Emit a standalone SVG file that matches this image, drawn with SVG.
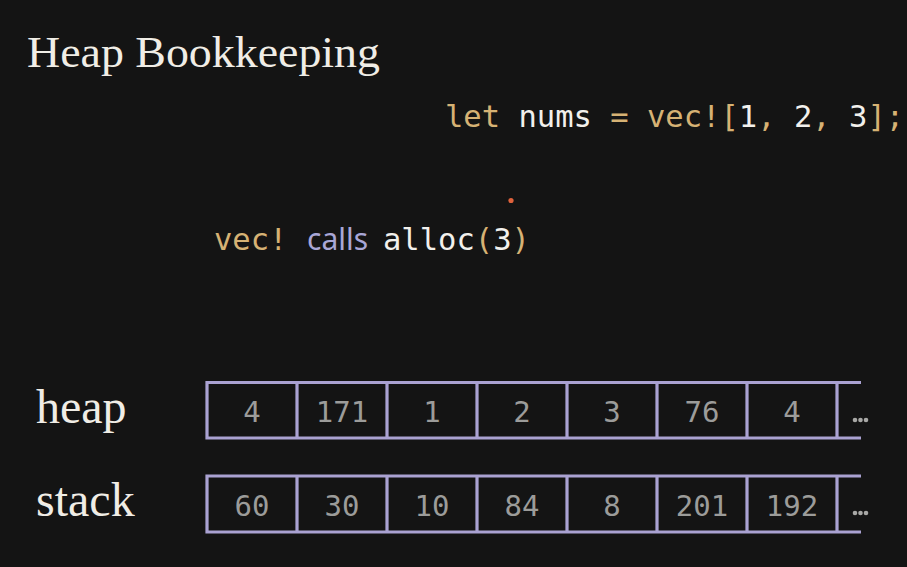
<svg xmlns="http://www.w3.org/2000/svg" width="907" height="567" viewBox="0 0 907 567">
<style>
.bg{fill:#141414}
.title{font-family:"Liberation Serif",serif;fill:#f0ede6}
.lab{font-family:"Liberation Serif",serif;font-size:48px;fill:#f0ede6}
.mono{font-family:"DejaVu Sans Mono",monospace;font-size:30.5px}
.gold{fill:#d6b274}
.white{fill:#f2f0ec}
.calls{font-family:"Noto Sans",sans-serif;font-size:30px;fill:#a9a6d6}
.cell{font-family:"DejaVu Sans Mono",monospace;font-size:29px;fill:#9c9c9a;text-anchor:middle}
.grid{fill:none;stroke:#aaa2d2;stroke-width:3.2}
.dots{fill:#a8a8a6}
</style>
<rect class="bg" x="0" y="0" width="907" height="567"/>
<text class="title" x="27" y="67" font-size="44" textLength="353" lengthAdjust="spacingAndGlyphs">Heap Bookkeeping</text>
<text class="mono" x="445" y="127" xml:space="preserve"><tspan class="gold">let</tspan><tspan class="white"> nums </tspan><tspan class="gold">= vec![</tspan><tspan class="white">1</tspan><tspan class="gold">, </tspan><tspan class="white">2</tspan><tspan class="gold">, </tspan><tspan class="white">3</tspan><tspan class="gold">];</tspan></text>
<circle cx="511" cy="200.5" r="2.6" fill="#e0623c"/>
<text class="mono gold" x="214" y="250">vec!</text>
<text class="calls" x="307" y="250">calls</text>
<text class="mono" x="383" y="250"><tspan class="white">alloc</tspan><tspan class="gold">(</tspan><tspan class="white">3</tspan><tspan class="gold">)</tspan></text>
<text class="lab" x="36" y="423">heap</text>
<text class="lab" x="36" y="516">stack</text>
<g id="heap">
<path class="grid" d="M861 382.5H207V438H861M297 382.5V438M387 382.5V438M477 382.5V438M567 382.5V438M657 382.5V438M747 382.5V438M837 382.5V438"/>
<g id="heap-0"><text class="cell" x="252" y="422">4</text></g>
<g id="heap-1"><text class="cell" x="342" y="422">171</text></g>
<g id="heap-2"><text class="cell" x="432" y="422">1</text></g>
<g id="heap-3"><text class="cell" x="522" y="422">2</text></g>
<g id="heap-4"><text class="cell" x="612" y="422">3</text></g>
<g id="heap-5"><text class="cell" x="702" y="422">76</text></g>
<g id="heap-6"><text class="cell" x="792" y="422">4</text></g>
<g id="heap-more"><circle class="dots" cx="855" cy="420" r="2.3"/><circle class="dots" cx="860.5" cy="420" r="2.3"/><circle class="dots" cx="866" cy="420" r="2.3"/></g>
</g>
<g id="stack">
<path class="grid" d="M861 476H207V532H861M297 476V532M387 476V532M477 476V532M567 476V532M657 476V532M747 476V532M837 476V532"/>
<g id="stack-0"><text class="cell" x="252" y="515.5">60</text></g>
<g id="stack-1"><text class="cell" x="342" y="515.5">30</text></g>
<g id="stack-2"><text class="cell" x="432" y="515.5">10</text></g>
<g id="stack-3"><text class="cell" x="522" y="515.5">84</text></g>
<g id="stack-4"><text class="cell" x="612" y="515.5">8</text></g>
<g id="stack-5"><text class="cell" x="702" y="515.5">201</text></g>
<g id="stack-6"><text class="cell" x="792" y="515.5">192</text></g>
<g id="stack-more"><circle class="dots" cx="855" cy="513" r="2.3"/><circle class="dots" cx="860.5" cy="513" r="2.3"/><circle class="dots" cx="866" cy="513" r="2.3"/></g>
</g>
</svg>
